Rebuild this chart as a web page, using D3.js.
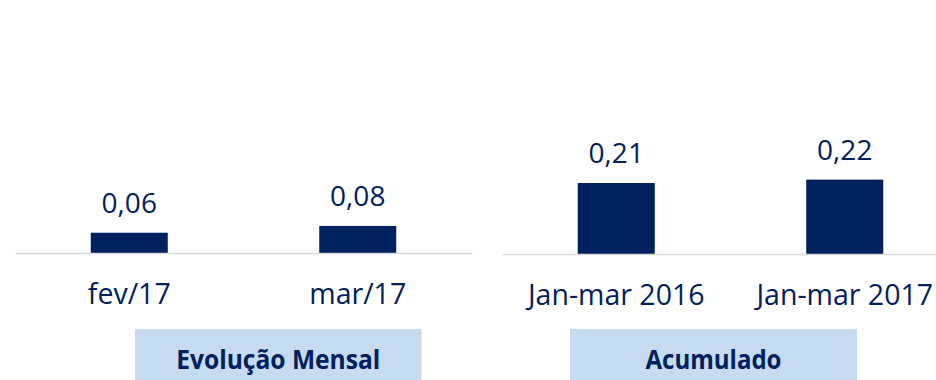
<!DOCTYPE html>
<html>
<head>
<meta charset="utf-8">
<script src="https://cdn.jsdelivr.net/npm/d3@7"></script>
<style>
  html, body { margin: 0; padding: 0; background: #ffffff; }
  svg { display: block; }
  text { font-family: "Open Sans", "Noto Sans", sans-serif; fill: #002060; }
</style>
</head>
<body>
<svg id="chart" width="936" height="380"></svg>
<script>
// Monthly evolution
const monthlyCategories = ["fev/17", "mar/17"];
const monthlyValues = [0.06, 0.08];
const monthlyTitle = "Evolução Mensal";

// Year-to-date accumulated
const accumCategories = ["Jan-mar 2016", "Jan-mar 2017"];
const accumValues = [0.21, 0.22];
const accumTitle = "Acumulado";

const fmt = v => d3.format(".2f")(v).replace(".", ",");

const svg = d3.select("#chart");
const navy = "#002060";
const W = 936, H = 380;

// Shared value scale so both panels use the same bar heights
function makeY(baseline) {
  return d3.scaleLinear().domain([0, 0.25]).range([baseline, baseline - 84.5]);
}

function panel(cats, vals, title, opt) {
  const g = svg.append("g");
  const x = d3.scaleBand()
    .domain(cats)
    .range([opt.x0, opt.x1])
    .paddingInner(0.663)
    .paddingOuter(0.3315);
  const y = makeY(opt.baseline);

  // Bars
  g.selectAll("rect.bar")
    .data(vals)
    .join("rect")
    .attr("class", "bar")
    .attr("x", (d, i) => x(cats[i]))
    .attr("width", x.bandwidth())
    .attr("y", d => y(d))
    .attr("height", d => y(0) - y(d))
    .attr("fill", navy);

  // Value labels
  g.selectAll("text.val")
    .data(vals)
    .join("text")
    .attr("class", "val")
    .attr("x", (d, i) => x(cats[i]) + x.bandwidth() / 2)
    .attr("y", d => y(d) - 20)
    .attr("text-anchor", "middle")
    .style("font-size", "28px")
    .text(d => fmt(d));

  // Category axis
  const axis = g.append("g")
    .attr("transform", `translate(0,${opt.baseline})`)
    .call(d3.axisBottom(x).tickSize(0).tickSizeOuter(0).tickPadding(31));
  axis.select(".domain").attr("stroke", "#d9d9d9").attr("stroke-width", 1.6);
  axis.selectAll(".tick text")
    .style("font-family", "'Open Sans', 'Noto Sans', sans-serif")
    .style("font-size", "28.5px")
    .attr("fill", navy);

  // Title box
  g.append("rect")
    .attr("x", opt.boxX)
    .attr("y", 329)
    .attr("width", opt.boxW)
    .attr("height", H - 329)
    .attr("fill", "#c6dbef");
  g.append("text")
    .attr("x", opt.boxX + opt.boxW / 2)
    .attr("y", 369)
    .attr("text-anchor", "middle")
    .attr("textLength", opt.titleW)
    .attr("lengthAdjust", "spacingAndGlyphs")
    .style("font-size", "27px")
    .style("font-weight", "700")
    .text(title);
}

panel(monthlyCategories, monthlyValues, monthlyTitle,
  { x0: 15, x1: 472, baseline: 253, boxX: 135, boxW: 286.5, titleW: 204 });
panel(accumCategories, accumValues, accumTitle,
  { x0: 502, x1: 959, baseline: 254, boxX: 570, boxW: 287, titleW: 136 });
</script>
</body>
</html>
